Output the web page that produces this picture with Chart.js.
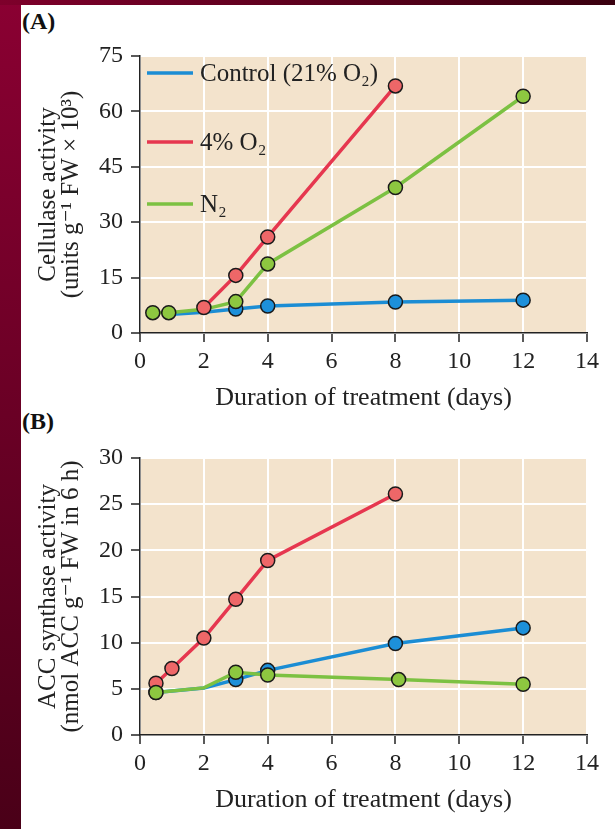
<!DOCTYPE html>
<html>
<head>
<meta charset="utf-8">
<script src="https://cdn.jsdelivr.net/npm/chart.js@4.4.1/dist/chart.umd.min.js"></script>
<style>
  html, body { margin: 0; padding: 0; background: #fff; }
  body { width: 615px; height: 829px; position: relative; overflow: hidden; }
  #topbar { position: absolute; left: 0; top: 0; width: 615px; height: 5px;
            background: linear-gradient(to right, #7e002b, #3a000f); }
  #sidebar { position: absolute; left: 0; top: 0; width: 21px; height: 829px;
             background: linear-gradient(to bottom, #8a0032, #4a0018); }
  .tag { position: absolute; left: 22px; font: bold 24px 'Liberation Serif', serif; color: #111; }
  .box { position: absolute; left: 0; width: 615px; height: 415px; }
</style>
</head>
<body>
<div id="sidebar"></div>
<div id="topbar"></div>
<div class="tag" style="top:8px">(A)</div>
<div class="tag" style="top:408px">(B)</div>
<div class="box" style="top:0"><canvas id="chartA" width="615" height="415"></canvas></div>
<div class="box" style="top:402px"><canvas id="chartB" width="615" height="415"></canvas></div>

<script>
// shared x axis
const xTicks = [0, 2, 4, 6, 8, 10, 12, 14];
const seriesNames = ['Control (21% O₂)', '4% O₂', 'N₂'];

// (A) cellulase activity
const cellTicks = [0, 15, 30, 45, 60, 75];
const cellControlDays = [0.9, 2, 3, 4, 8, 12];
const cellControl = [5.0, 5.6, 6.5, 7.3, 8.4, 8.9];
const cellLowO2Days = [2, 3, 4, 8];
const cellLowO2 = [6.9, 15.6, 26.0, 66.9];
const cellN2Days = [0.4, 0.9, 2, 3, 4, 8, 12];
const cellN2 = [5.5, 5.5, 6.4, 8.5, 18.7, 39.4, 64.1];

// (B) ACC synthase activity
const accTicks = [0, 5, 10, 15, 20, 25, 30];
const accControlDays = [0.5, 2, 3, 4, 8, 12];
const accControl = [4.6, 5.1, 6.0, 7.0, 9.9, 11.6];
const accLowO2Days = [0.5, 1, 2, 3, 4, 8];
const accLowO2 = [5.6, 7.2, 10.5, 14.7, 18.9, 26.1];
const accN2Days = [0.5, 2, 3, 4, 8.1, 12];
const accN2 = [4.6, 5.1, 6.8, 6.5, 6.0, 5.5];

const FONT = "'Liberation Serif', 'DejaVu Serif', serif";
const colors = {
    'Control (21% O₂)': { line: '#1b8dd4', fill: '#1d90da' },
    '4% O₂': { line: '#e6374f', fill: '#ee6768' },
    'N₂': { line: '#7cc142', fill: '#8dc740' }
};

function pts(xs, ys) {
    return xs.map((x, i) => ({ x: x, y: ys[i] }));
}

// beige plot background
const plotBg = {
    id: 'plotBg',
    beforeDraw(chart) {
        const { ctx, chartArea: a } = chart;
        ctx.save();
        ctx.fillStyle = '#f3e3cc';
        ctx.fillRect(a.left, a.top, a.right - a.left, a.bottom - a.top);
        ctx.restore();
    }
};

// legend drawn inside the plot, under the data
const inPlotLegend = {
    id: 'inPlotLegend',
    beforeDatasetsDraw(chart, args, opts) {
        if (!opts.show) return;
        const { ctx, chartArea: a } = chart;
        const rowY = [17, 86, 148];
        ctx.save();
        seriesNames.forEach((name, i) => {
            const y = a.top + rowY[i];
            ctx.strokeStyle = colors[name].line;
            ctx.lineWidth = 3.5;
            ctx.beginPath();
            ctx.moveTo(a.left + 7, y);
            ctx.lineTo(a.left + 53, y);
            ctx.stroke();
            ctx.fillStyle = '#222';
            ctx.font = '25px ' + FONT;
            ctx.textBaseline = 'middle';
            ctx.fillText(name, a.left + 60, y + 1);
        });
        ctx.restore();
    }
};

function makeChart(id, series, yTicks, yTitle, showLegend) {
    const datasets = series.map(s => ({
        label: s.name,
        data: s.data,
        order: s.order,
        borderColor: colors[s.name].line,
        backgroundColor: colors[s.name].fill,
        borderWidth: 3.5,
        tension: 0,
        clip: false,
        pointRadius: c => (s.noMarker || []).includes(c.raw && c.raw.x) ? 0 : 7,
        pointHoverRadius: 7,
        pointBackgroundColor: colors[s.name].fill,
        pointBorderColor: '#1a1a1a',
        pointBorderWidth: 1.5
    }));

    return new Chart(document.getElementById(id), {
        type: 'line',
        data: { datasets: datasets },
        plugins: [plotBg, inPlotLegend],
        options: {
            responsive: false,
            animation: false,
            layout: { padding: { left: 21, top: 56, right: 28, bottom: 0 } },
            plugins: {
                legend: { display: false },
                tooltip: { enabled: false },
                inPlotLegend: { show: showLegend }
            },
            scales: {
                x: {
                    type: 'linear',
                    min: 0,
                    max: 14,
                    afterBuildTicks: sc => { sc.ticks = xTicks.map(v => ({ value: v })); },
                    afterFit: sc => { sc.height = 82; },
                    grid: { color: '#ffffff', lineWidth: 2, tickColor: '#222', tickLength: 9, tickWidth: 1.5 },
                    border: { color: '#222', width: 1.5 },
                    ticks: { color: '#222', padding: 5, font: { family: FONT, size: 24 }, maxRotation: 0 },
                    title: {
                        display: true,
                        text: 'Duration of treatment (days)',
                        color: '#222',
                        font: { family: FONT, size: 26, lineHeight: 1.2 },
                        padding: { top: 0, bottom: 1 }
                    }
                },
                y: {
                    type: 'linear',
                    min: yTicks[0],
                    max: yTicks[yTicks.length - 1],
                    afterBuildTicks: sc => { sc.ticks = yTicks.map(v => ({ value: v })); },
                    afterFit: sc => { sc.width = 119; },
                    grid: { color: '#ffffff', lineWidth: 2, tickColor: '#222', tickLength: 9, tickWidth: 1.5 },
                    border: { color: '#222', width: 1.5 },
                    ticks: { color: '#222', padding: 8, font: { family: FONT, size: 24 } },
                    title: {
                        display: true,
                        text: yTitle,
                        color: '#222',
                        font: { family: FONT, size: 25, lineHeight: 0.92 },
                        padding: { top: 16, bottom: 0 }
                    }
                }
            }
        }
    });
}

makeChart('chartA', [
    { name: seriesNames[0], data: pts(cellControlDays, cellControl), order: 3, noMarker: [0.9, 2] },
    { name: seriesNames[1], data: pts(cellLowO2Days, cellLowO2), order: 1 },
    { name: seriesNames[2], data: pts(cellN2Days, cellN2), order: 2, noMarker: [2] }
], cellTicks, ['Cellulase activity', '(units g⁻¹ FW × 10³)'], true);

makeChart('chartB', [
    { name: seriesNames[0], data: pts(accControlDays, accControl), order: 3, noMarker: [2] },
    { name: seriesNames[1], data: pts(accLowO2Days, accLowO2), order: 2 },
    { name: seriesNames[2], data: pts(accN2Days, accN2), order: 1, noMarker: [2] }
], accTicks, ['ACC synthase activity', '(nmol ACC g⁻¹ FW in 6 h)'], false);
</script>
</body>
</html>
